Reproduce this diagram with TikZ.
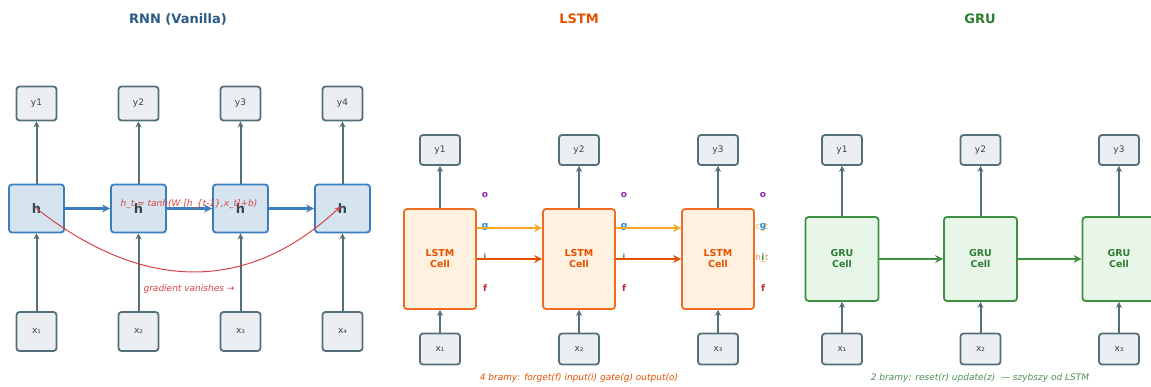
\documentclass[tikz,border=0pt]{standalone}
\usepackage{fontspec}
\setmainfont{DejaVu Sans}
\usetikzlibrary{arrows.meta}
\definecolor{gbox}{HTML}{ECEFF1}
\definecolor{gline}{HTML}{546E7A}
\definecolor{gtext}{HTML}{37474F}
\definecolor{rnnfill}{HTML}{D6E4F0}
\definecolor{rnnline}{HTML}{3C7DBE}
\definecolor{rnntitle}{HTML}{2B5B87}
\definecolor{redc}{HTML}{D64545}
\definecolor{lstmfill}{HTML}{FFF1E0}
\definecolor{lstmline}{HTML}{EE6C24}
\definecolor{lstmtext}{HTML}{E65100}
\definecolor{cyel}{HTML}{F9A825}
\definecolor{horange}{HTML}{E65100}
\definecolor{gpurple}{HTML}{8E24AA}
\definecolor{gblue}{HTML}{1E88E5}
\definecolor{ggreen}{HTML}{43A047}
\definecolor{gred}{HTML}{C62828}
\definecolor{grufill}{HTML}{E8F5E9}
\definecolor{gruline}{HTML}{3E9142}
\definecolor{grutext}{HTML}{2E7D32}
\tikzset{
  iobox/.style={draw=gline, fill=gbox, line width=1.8pt, rounded corners=3pt, inner sep=0pt, text=gtext, font=\fontsize{9}{10}\selectfont},
  ybox/.style={iobox, minimum width=40pt, minimum height=34pt},
  xbox/.style={iobox, minimum width=40pt, minimum height=39pt},
  sbox/.style={iobox, minimum width=40pt, minimum height=30pt},
  hbox/.style={draw=rnnline, fill=rnnfill, line width=1.8pt, rounded corners=3pt, inner sep=0pt, minimum width=55pt, minimum height=48pt, text=gtext, font=\fontsize{13}{14}\selectfont\bfseries},
  lbox/.style={draw=lstmline, fill=lstmfill, line width=1.8pt, rounded corners=3pt, inner sep=0pt, minimum width=72pt, minimum height=100pt, text=lstmtext, align=center, font=\fontsize{9.5}{11}\selectfont\bfseries},
  rbox/.style={draw=gruline, fill=grufill, line width=1.8pt, rounded corners=3pt, inner sep=0pt, minimum width=73pt, minimum height=84pt, text=grutext, align=center, font=\fontsize{9.5}{11}\selectfont\bfseries},
  garrow/.style={draw=gline, line width=2pt, -{Stealth[length=6pt,width=6pt]}},
  harrow/.style={line width=2.5pt, -{Stealth[length=8pt,width=8pt]}},
  ttl/.style={font=\fontsize{13}{14}\selectfont\bfseries},
  gate/.style={font=\fontsize{9}{10}\selectfont\bfseries, inner sep=0pt},
  note/.style={font=\fontsize{9}{10}\selectfont\itshape, inner sep=0pt},
}
\begin{document}
\begin{tikzpicture}[x=1pt,y=-1pt]
\useasboundingbox (0,0) rectangle (1151,386);
% ---------------- RNN ----------------
\node[ttl, text=rnntitle] (trnn) at (178,19) {RNN (Vanilla)};
\foreach \i/\xx/\sub in {1/36.5/₁,2/138.5/₂,3/240.5/₃,4/342.5/₄}{
  \node[ybox] (ry\i) at (\xx,103.5) {y\i};
  \node[hbox] (rh\i) at (\xx,208.5) {h};
  \node[xbox] (rx\i) at (\xx,331.5) {x\sub};
  \draw[garrow] (rx\i) -- (rh\i);
  \draw[garrow] (rh\i) -- (ry\i);
}
\foreach \a/\b in {1/2,2/3,3/4}{
  \draw[harrow, rnnline] (rh\a) -- (rh\b);
}
\node[note, text=redc] (form) at (189,204) {h\_t = tanh(W·[h\_\{t-1\},x\_t]+b)};
\draw[redc, line width=1pt, -{Stealth[length=6pt,width=5pt]}] (rh1.center) .. controls (140,290) and (245,296) .. ([xshift=-2pt,yshift=2pt]rh4.center);
\node[note, text=redc] (grad) at (189,289) {gradient vanishes →};
% ---------------- LSTM ----------------
\node[ttl, text=lstmtext] (tlstm) at (579,19) {LSTM};
\foreach \i/\xx/\sub in {1/440/₁,2/579/₂,3/718/₃}{
  \node[sbox] (ly\i) at (\xx,150) {y\i};
  \node[lbox] (lc\i) at (\xx,259) {LSTM\\Cell};
  \node[sbox, minimum height=31pt] (lx\i) at (\xx,349) {x\sub};
  \draw[garrow] (lx\i) -- (lc\i);
  \draw[garrow] (lc\i) -- (ly\i);
  \node[gate, text=gpurple] (lo\i) at (\xx+45,195) {o};
  \node[gate, text=gblue] (lg\i) at (\xx+45,227) {g};
  \node[gate, text=ggreen] (li\i) at (\xx+45,257) {i};
  \node[gate, text=gred] (lf\i) at (\xx+45,288) {f};
}
\foreach \a/\b in {1/2,2/3}{
  \draw[harrow, cyel] ([yshift=31pt]lc\a.east) -- ([yshift=31pt]lc\b.west);
  \draw[harrow, horange] (lc\a.east) -- (lc\b.west);
}
\node[text=cyel!85!white, font=\fontsize{8.5}{9}\selectfont, inner sep=0pt] (ct) at (762,228) {c\_t};
\node[text=horange!65!white, font=\fontsize{8.5}{9}\selectfont, inner sep=0pt] (ht) at (762,258) {h\_t};
\node[note, text=lstmtext] (cl) at (579,378) {4 bramy: forget(f) input(i) gate(g) output(o)};
% ---------------- GRU ----------------
\node[ttl, text=grutext] (tgru) at (980,19) {GRU};
\foreach \i/\xx/\sub in {1/842/₁,2/980.5/₂,3/1119/₃}{
  \node[sbox] (gy\i) at (\xx,150) {y\i};
  \node[rbox] (gc\i) at (\xx,259) {GRU\\Cell};
  \node[sbox, minimum height=31pt] (gx\i) at (\xx,349) {x\sub};
  \draw[garrow] (gx\i) -- (gc\i);
  \draw[garrow] (gc\i) -- (gy\i);
}
\foreach \a/\b in {1/2,2/3}{
  \draw[harrow, gruline] (gc\a) -- (gc\b);
}
\node[note, text=grutext!85!white] (cg) at (980,378) {2 bramy: reset(r) update(z)\ \ — szybszy od LSTM};
\end{tikzpicture}
\end{document}
